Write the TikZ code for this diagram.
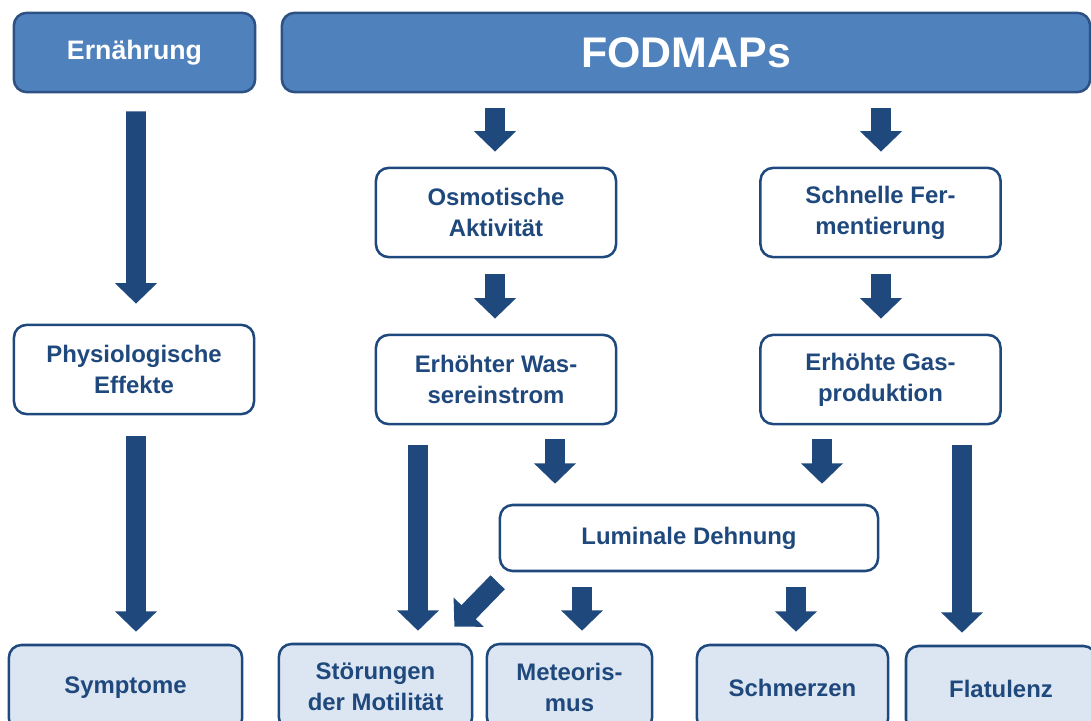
\documentclass[tikz,border=0pt]{standalone}
\usepackage{fontspec}
\setmainfont{Liberation Sans}
\usepackage{tikz}
\usetikzlibrary{arrows.meta, positioning, calc}
\definecolor{HeadBlue}{HTML}{4F81BD}
\definecolor{EdgeBlue}{HTML}{2C5182}
\definecolor{DarkBlue}{HTML}{1F497D}
\definecolor{PaleBlue}{HTML}{DCE6F2}

\begin{document}
\begin{tikzpicture}[x=0.025cm, y=-0.025cm,
  head/.style={draw=EdgeBlue, fill=HeadBlue, line width=1.8pt, rounded corners=9pt, inner sep=0pt, text=white, font=\bfseries\fontsize{19}{22}\selectfont, minimum height=1.98cm},
  box/.style={draw=DarkBlue, fill=white, line width=1.8pt, rounded corners=9pt, inner sep=0pt, align=center, text=DarkBlue, font=\bfseries\fontsize{17}{22}\selectfont, minimum width=6cm, minimum height=2.23cm},
  leaf/.style={box, fill=PaleBlue, minimum height=2.15cm},
  arr/.style={-{Triangle[length=14.5pt, width=29pt]}, line width=14.2pt, draw=DarkBlue},
]
\useasboundingbox (0,0) rectangle (1091,721);
\clip (0,0) rectangle (1091,721);
\node[head, minimum width=6.03cm] (ern) at (134.5,52.5) {Ernährung};
\node[head, minimum width=20.2cm, font=\bfseries\fontsize{30.5}{34}\selectfont] (fod) at (686,52.5) {FODMAPs};
\node[box] (osm) at (496,212.5) {Osmotische\\Aktivität};
\node[box] (fer) at (880.5,212.5) {Schnelle Fer-\\mentierung};
\node[box] (phys) at (134,369.5) {Physiologische\\Effekte};
\node[box] (was) at (496,379.5) {Erhöhter Was-\\sereinstrom};
\node[box] (gas) at (880.5,379.5) {Erhöhte Gas-\\produktion};
\node[box, minimum width=9.45cm, minimum height=1.65cm] (lum) at (689,538) {Luminale Dehnung};
\node[leaf, minimum width=5.83cm] (sym) at (125.5,688) {Symptome};
\node[leaf, minimum width=4.83cm] (sto) at (375.5,687) {Störungen\\der Motilität};
\node[leaf, minimum width=4.13cm] (met) at (569.5,687) {Meteoris-\\mus};
\node[leaf, minimum width=4.78cm] (sch) at (792.5,688) {Schmerzen};
\node[leaf, minimum width=4.75cm] (fla) at (1001,689) {Flatulenz};
\draw[arr] ([shift={(1.5,18)}]ern.south) -- ([shift={(2,-20)}]phys.north);
\draw[arr] ([shift={(2,21)}]phys.south) -- ([shift={(2,-12)}]phys.south |- sym.north);
\draw[arr] ([shift={(-1,15)}]osm.north |- fod.south) -- ([shift={(-1,-15)}]osm.north);
\draw[arr] ([shift={(0.5,15)}]fer.north |- fod.south) -- ([shift={(0.5,-15)}]fer.north);
\draw[arr] ([shift={(-1,16)}]osm.south) -- ([shift={(-1,-15)}]was.north);
\draw[arr] ([shift={(0.5,16)}]fer.south) -- ([shift={(0.5,-15)}]gas.north);
\draw[arr] ([shift={(59,14)}]was.south) -- ([shift={(59,-20)}]was.south |- lum.north);
\draw[arr] ([shift={(-58.5,14)}]gas.south) -- ([shift={(-58.5,-20)}]gas.south |- lum.north);
\draw[arr] ([shift={(-78,20)}]was.south) -- ([shift={(-78,-12)}]was.south |- sto.north);
\draw[arr] ([shift={(81.5,20)}]gas.south) -- ([shift={(81.5,-12)}]gas.south |- fla.north);
\draw[arr] ([shift={(-1,10)}]lum.south west) -- ([shift={(-19,-16)}]sto.north east);
\draw[arr] ([shift={(12.5,15)}]met.north |- lum.south) -- ([shift={(12.5,-12)}]met.north);
\draw[arr] ([shift={(3.5,15)}]sch.north |- lum.south) -- ([shift={(3.5,-12)}]sch.north);
\end{tikzpicture}
\end{document}
